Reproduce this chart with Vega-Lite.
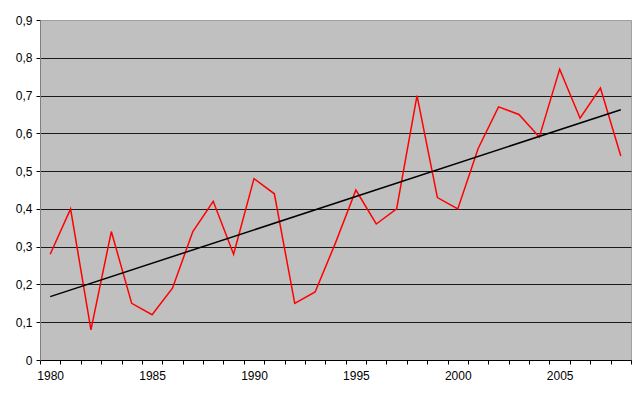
{
  "$schema": "https://vega.github.io/schema/vega-lite/v6.json",
  "autosize": {"type": "none"},
  "width": 591,
  "height": 340,
  "padding": {"left": 40, "top": 20, "right": 9, "bottom": 39},
  "background": "#FFFFFF",
  "config": {
    "view": {"fill": "#C0C0C0", "stroke": "#A0A0A0", "strokeWidth": 1},
    "font": "Liberation Sans",
    "axis": {"labelFont": "Liberation Sans", "labelFontSize": 12, "labelColor": "#000000"}
  },
  "data": {
    "values": [
      {"year": 1980, "value": 0.28},
      {"year": 1981, "value": 0.40},
      {"year": 1982, "value": 0.08},
      {"year": 1983, "value": 0.34},
      {"year": 1984, "value": 0.15},
      {"year": 1985, "value": 0.12},
      {"year": 1986, "value": 0.19},
      {"year": 1987, "value": 0.34},
      {"year": 1988, "value": 0.42},
      {"year": 1989, "value": 0.28},
      {"year": 1990, "value": 0.48},
      {"year": 1991, "value": 0.44},
      {"year": 1992, "value": 0.15},
      {"year": 1993, "value": 0.18},
      {"year": 1994, "value": 0.31},
      {"year": 1995, "value": 0.45},
      {"year": 1996, "value": 0.36},
      {"year": 1997, "value": 0.40},
      {"year": 1998, "value": 0.70},
      {"year": 1999, "value": 0.43},
      {"year": 2000, "value": 0.40},
      {"year": 2001, "value": 0.56},
      {"year": 2002, "value": 0.67},
      {"year": 2003, "value": 0.65},
      {"year": 2004, "value": 0.59},
      {"year": 2005, "value": 0.77},
      {"year": 2006, "value": 0.64},
      {"year": 2007, "value": 0.72},
      {"year": 2008, "value": 0.54}
    ]
  },
  "resolve": {"axis": {"x": "independent", "y": "independent"}},
  "layer": [
    {
      "mark": {"type": "line", "color": "#FF0000", "strokeWidth": 1.5},
      "encoding": {
        "x": {
          "field": "year", "type": "quantitative",
          "scale": {"domain": [1979.5, 2008.5], "nice": false, "zero": false},
          "axis": {
            "orient": "bottom",
            "title": null,
            "values": [1980, 1985, 1990, 1995, 2000, 2005],
            "format": "d",
            "ticks": false,
            "domain": false,
            "grid": false,
            "labelPadding": 10,
            "labelFlush": false
          }
        },
        "y": {
          "field": "value", "type": "quantitative",
          "scale": {"domain": [0, 0.9], "nice": false},
          "axis": {
            "orient": "left",
            "title": null,
            "values": [0, 0.1, 0.2, 0.3, 0.4, 0.5, 0.6, 0.7, 0.8, 0.9],
            "labelExpr": "datum.value == 0 ? '0' : replace(format(datum.value, '.1f'), '.', ',')",
            "domain": true,
            "domainColor": "#808080",
            "domainWidth": 1,
            "ticks": true,
            "tickColor": "#000000",
            "tickSize": 4,
            "labelPadding": 4,
            "grid": true,
            "gridColor": {"condition": {"test": "datum.value == 0 || datum.value > 0.85", "value": "transparent"}, "value": "#1A1A1A"},
            "gridWidth": 1,
            "labelFlush": false
          }
        }
      }
    },
    {
      "transform": [
        {"regression": "value", "on": "year", "method": "linear", "extent": [1980, 2008]}
      ],
      "mark": {"type": "line", "color": "#000000", "strokeWidth": 1.5},
      "encoding": {
        "x": {
          "field": "year", "type": "quantitative",
          "axis": {
            "orient": "bottom",
            "title": null,
            "values": [1979.5, 1980.5, 1981.5, 1982.5, 1983.5, 1984.5, 1985.5, 1986.5, 1987.5, 1988.5, 1989.5, 1990.5, 1991.5, 1992.5, 1993.5, 1994.5, 1995.5, 1996.5, 1997.5, 1998.5, 1999.5, 2000.5, 2001.5, 2002.5, 2003.5, 2004.5, 2005.5, 2006.5, 2007.5, 2008.5],
            "labels": false,
            "ticks": true,
            "tickColor": "#000000",
            "tickSize": 4,
            "domain": true,
            "domainColor": "#000000",
            "grid": false
          }
        },
        "y": {
          "field": "value", "type": "quantitative",
          "axis": null
        }
      }
    }
  ]
}
